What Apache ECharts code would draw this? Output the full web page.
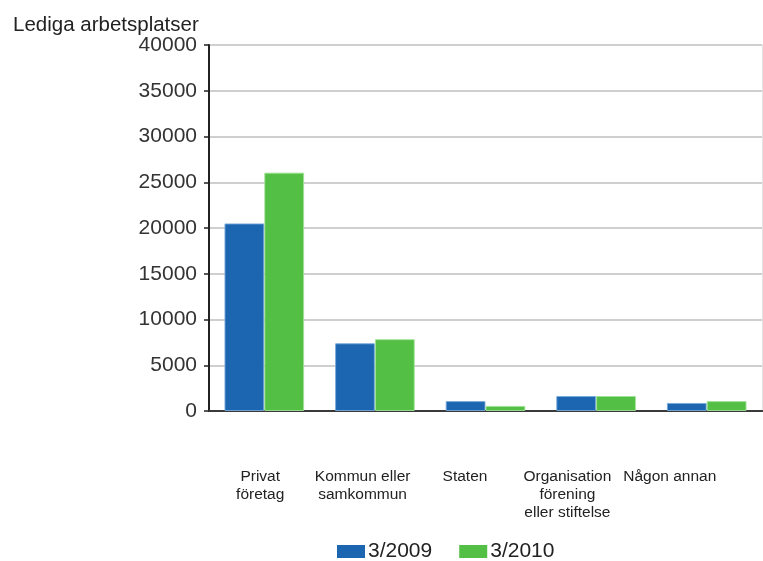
<!DOCTYPE html>
<html>
<head>
<meta charset="utf-8">
<script src="https://cdn.jsdelivr.net/npm/echarts@6/dist/echarts.min.js"></script>
<style>
html,body{margin:0;padding:0;background:#fff;}
#main{width:763px;height:561px;}
</style>
</head>
<body>
<div id="main"></div>
<script>
const categories = ["Privat\nföretag", "Kommun eller\nsamkommun", "Staten", "Organisation\nförening\neller stiftelse", "Någon annan"];
const seriesNames = ["3/2009", "3/2010"];
const values2009 = [20500, 7400, 1080, 1640, 880];
const values2010 = [26050, 7850, 560, 1640, 1080];
const yTicks = [0, 5000, 10000, 15000, 20000, 25000, 30000, 35000, 40000];
const yTitle = "Lediga arbetsplatser";

const FONT = '"Liberation Sans", Arial, sans-serif';
const chart = echarts.init(document.getElementById('main'), null, {renderer: 'canvas'});
chart.setOption({
  animation: false,
  backgroundColor: '#fff',
  textStyle: {fontFamily: FONT},
  title: {
    text: yTitle, left: 8, top: 10,
    textStyle: {fontFamily: FONT, fontSize: 20.5, fontWeight: 'normal', color: '#222'}
  },
  legend: {
    left: 332, top: 536,
    itemWidth: 28, itemHeight: 13, itemGap: 27,
    icon: 'rect',
    itemStyle: {borderWidth: 0},
    textStyle: {fontFamily: FONT, fontSize: 21, color: '#222', padding: [0, 0, 0, -2]},
    data: seriesNames
  },
  grid: [
    {left: 209, right: 1, top: 45, bottom: 150, containLabel: false},
    {left: 209, width: 512, top: 45, bottom: 150, containLabel: false}
  ],
  xAxis: [
    {
      type: 'category', gridIndex: 0, data: categories,
      axisLine: {show: true, lineStyle: {color: '#333', width: 2}},
      axisTick: {show: false},
      axisLabel: {show: false}
    },
    {
      type: 'category', gridIndex: 0, position: 'top', data: categories,
      axisLine: {show: true, lineStyle: {color: '#3a3a3a', width: 2}},
      axisTick: {show: false},
      axisLabel: {show: false}
    },
    {
      type: 'category', gridIndex: 1, data: categories,
      axisLine: {show: false},
      axisTick: {show: false},
      axisLabel: {show: true, interval: 0, margin: 57, fontFamily: FONT, fontSize: 15.5, lineHeight: 18, color: '#222', align: 'center'}
    }
  ],
  yAxis: [
    {
      type: 'value', gridIndex: 0, min: yTicks[0], max: yTicks[yTicks.length - 1], interval: 5000,
      axisLine: {show: true, lineStyle: {color: '#222', width: 2}},
      axisTick: {show: true, length: 5, lineStyle: {color: '#222', width: 1.5}},
      axisLabel: {margin: 12, fontFamily: FONT, fontSize: 21, color: '#333', formatter: function (v) { return String(v); }},
      splitLine: {show: true, lineStyle: {color: '#cfcfcf', width: 2}}
    },
    {
      type: 'value', gridIndex: 0, position: 'right', min: 0, max: 40000, interval: 5000,
      axisLine: {show: true, lineStyle: {color: '#e2e2e2', width: 1}},
      axisTick: {show: false}, axisLabel: {show: false}, splitLine: {show: false}
    },
    {
      type: 'value', gridIndex: 1, min: 0, max: 40000, show: false,
      splitLine: {show: false}
    }
  ],
  series: [
    {
      name: seriesNames[0], type: 'bar', xAxisIndex: 0, yAxisIndex: 0, data: values2009,
      barGap: '0%', barCategoryGap: '28%',
      itemStyle: {color: '#1c66b1', borderColor: 'rgba(120,170,220,0.9)', borderWidth: 1}
    },
    {
      name: seriesNames[1], type: 'bar', xAxisIndex: 0, yAxisIndex: 0, data: values2010,
      barGap: '0%', barCategoryGap: '28%',
      itemStyle: {color: '#53bf44', borderColor: 'rgba(160,225,150,0.9)', borderWidth: 1}
    }
  ]
});
</script>
</body>
</html>
